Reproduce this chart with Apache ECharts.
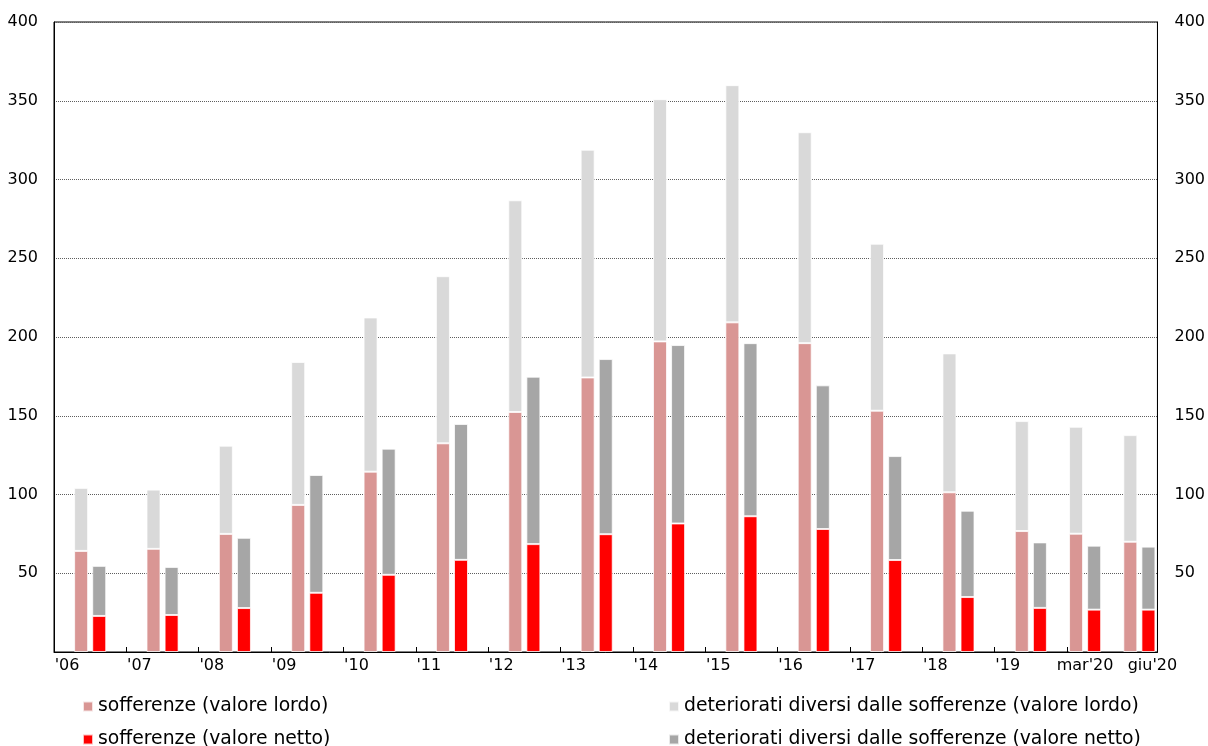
<!DOCTYPE html>
<html>
<head>
<meta charset="utf-8">
<script src="https://cdn.jsdelivr.net/npm/echarts@6/dist/echarts.min.js"></script>
<style>
html,body{margin:0;padding:0;background:#fff;}
#chart{width:1208px;height:746px;}
</style>
</head>
<body>
<div id="chart"></div>
<script>
// ---- data ----
const categories = ["'06","'07","'08","'09","'10","'11","'12","'13","'14","'15","'16","'17","'18","'19","mar'20","giu'20"];
const seriesNames = [
  "sofferenze (valore lordo)",
  "deteriorati diversi dalle sofferenze (valore lordo)",
  "sofferenze (valore netto)",
  "deteriorati diversi dalle sofferenze (valore netto)"
];
const sofferenzeLordo = [64.2, 65.5, 75.0, 93.4, 114.5, 132.5, 152.4, 174.3, 197.2, 209.3, 196.1, 153.2, 101.4, 76.8, 75.1, 70.0];
const deterioratiLordo = [40.0, 37.6, 56.0, 90.7, 97.9, 106.1, 134.4, 144.6, 153.8, 150.6, 133.9, 106.0, 88.2, 69.8, 67.9, 67.7];
const sofferenzeNetto = [22.9, 23.5, 27.9, 37.6, 49.0, 58.5, 68.5, 74.8, 81.6, 86.2, 78.1, 58.4, 34.9, 28.0, 26.9, 26.9];
const deterioratiNetto = [31.8, 30.5, 44.6, 74.8, 80.1, 86.3, 106.3, 111.2, 113.3, 109.9, 91.2, 66.0, 54.8, 41.6, 40.6, 40.0];
const yTicks = {min: 0, max: 400, step: 50};

// ---- slot layout (years: pad, gross, net, pad; quarters: gross, net, pad) ----
const slots = [];
const periodStart = [];
categories.forEach((c, i) => {
  const quarter = /[a-z]/.test(c);
  periodStart.push(slots.length);
  if (!quarter) slots.push({i, role: 'lab'});
  slots.push({i, role: 'g'});
  slots.push({i, role: 'n'});
  slots.push({i, role: 'pad'});
});
slots.pop();
// label slot per category
const labelSlot = {};
categories.forEach((c, i) => {
  const quarter = /[a-z]/.test(c);
  if (!quarter) labelSlot[periodStart[i]] = {text: c, style: 'y'};
  else if (i === categories.length - 1) labelSlot[periodStart[i] + 1] = {text: c, style: 'y'};
  else labelSlot[periodStart[i]] = {text: c, style: 'q'};
});
const tickSet = new Set(periodStart.slice(1, periodStart.length - 1));

function slotData(arr, role) {
  return slots.map(s => s.role === role ? arr[s.i] : null);
}

const FONT = 'DejaVu Sans';
const chart = echarts.init(document.getElementById('chart'), null, {renderer: 'canvas'});
const barBorder = {borderColor: 'rgba(255,255,255,0.75)', borderWidth: 1};
const yAxisBase = {
  type: 'value', min: yTicks.min, max: yTicks.max, interval: yTicks.step,
  axisLine: {show: true, lineStyle: {color: '#000', width: 1}},
  axisTick: {show: false},
  axisLabel: {showMinLabel: false, color: '#000', fontFamily: FONT, fontSize: 16}
};
const legendText = {fontFamily: FONT, fontSize: 18.8, color: '#000'};
const legendPos = [[82, 697], [668, 697], [82, 730], [668, 730]];
chart.setOption({
  animation: false,
  backgroundColor: '#fff',
  grid: {left: 54, right: 49, top: 22, bottom: 94, show: true, borderColor: '#000', borderWidth: 1},
  legend: seriesNames.map((n, k) => ({
    left: legendPos[k][0], top: legendPos[k][1], padding: 0,
    itemWidth: 10, itemHeight: 10, icon: 'rect',
    data: [n], textStyle: legendText
  })),
  xAxis: {
    type: 'category',
    data: slots.map((s, k) => 's' + k),
    boundaryGap: true,
    axisLine: {lineStyle: {color: '#000', width: 1}},
    axisTick: {show: true, inside: true, length: 5, interval: (idx) => tickSet.has(idx), lineStyle: {color: '#000'}},
    axisLabel: {
      interval: 0, margin: 6, color: '#000', fontFamily: FONT, fontSize: 16,
      formatter: (v, idx) => labelSlot[idx] ? '{' + labelSlot[idx].style + '|' + labelSlot[idx].text + '}' : '',
      rich: {
        y: {fontFamily: FONT, fontSize: 16, color: '#000', padding: [0, 0, 0, 8]},
        q: {fontFamily: FONT, fontSize: 16, color: '#000', padding: [0, 0, 0, 18]}
      }
    },
    splitLine: {show: false}
  },
  yAxis: [
    Object.assign({}, yAxisBase, {
      position: 'left',
      axisLabel: Object.assign({}, yAxisBase.axisLabel, {margin: 16}),
      splitLine: {show: true, lineStyle: {color: '#5e5e5e', type: [1, 1], width: 1}}
    }),
    Object.assign({}, yAxisBase, {
      position: 'right',
      axisLabel: Object.assign({}, yAxisBase.axisLabel, {margin: 17}),
      splitLine: {show: false}
    })
  ],
  series: [
    {name: seriesNames[0], type: 'bar', stack: 'g', barWidth: 14, barGap: '-100%',
     itemStyle: Object.assign({color: '#D99694'}, barBorder), data: slotData(sofferenzeLordo, 'g')},
    {name: seriesNames[1], type: 'bar', stack: 'g', barWidth: 14, barGap: '-100%',
     itemStyle: Object.assign({color: '#D9D9D9'}, barBorder), data: slotData(deterioratiLordo, 'g')},
    {name: seriesNames[2], type: 'bar', stack: 'n', barWidth: 14, barGap: '-100%',
     itemStyle: Object.assign({color: '#FF0000'}, barBorder), data: slotData(sofferenzeNetto, 'n')},
    {name: seriesNames[3], type: 'bar', stack: 'n', barWidth: 14, barGap: '-100%',
     itemStyle: Object.assign({color: '#A6A6A6'}, barBorder), data: slotData(deterioratiNetto, 'n')}
  ]
});
</script>
</body>
</html>
